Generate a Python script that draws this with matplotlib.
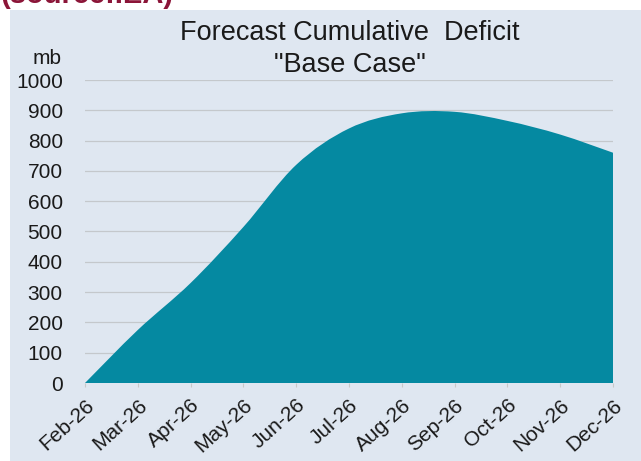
import matplotlib.pyplot as plt
from matplotlib.patches import Rectangle, PathPatch
from matplotlib.path import Path

plt.rcParams['font.family'] = ['Liberation Sans', 'DejaVu Sans']

# 数据
months = ['Feb-26', 'Mar-26', 'Apr-26', 'May-26', 'Jun-26', 'Jul-26',
          'Aug-26', 'Sep-26', 'Oct-26', 'Nov-26', 'Dec-26']
deficit = [0, 175, 330, 515, 720, 840, 890, 895, 865, 820, 760]
yticks = [0, 100, 200, 300, 400, 500, 600, 700, 800, 900, 1000]

fig = plt.figure(figsize=(6.41, 4.61), dpi=100)
fig.patch.set_facecolor('white')
# 背景面板
fig.patches.append(Rectangle((10 / 641, 0), 1, (461 - 10) / 461,
                             transform=fig.transFigure, facecolor='#dfe7f1',
                             edgecolor='none', zorder=-10))
fig.text(0.0, 1 + 5 / 461, '(source:IEA)', color='#8b1538', fontsize=21,
         fontweight='bold', ha='left', va='center')

ax = fig.add_axes([85 / 641, 78 / 461, (613 - 85) / 641, (383 - 80) / 461])
ax.set_facecolor('none')
x = list(range(len(months)))

# 平滑面积（Excel 风格的平滑线，贝塞尔曲线）
n = len(x)
verts = [(x[0], 0), (x[0], deficit[0])]
codes = [Path.MOVETO, Path.LINETO]
for i in range(n - 1):
    p0 = (x[max(i - 1, 0)], deficit[max(i - 1, 0)])
    p1 = (x[i], deficit[i])
    p2 = (x[i + 1], deficit[i + 1])
    p3 = (x[min(i + 2, n - 1)], deficit[min(i + 2, n - 1)])
    c1 = (p1[0] + (p2[0] - p0[0]) / 6, p1[1] + (p2[1] - p0[1]) / 6)
    c2 = (p2[0] - (p3[0] - p1[0]) / 6, p2[1] - (p3[1] - p1[1]) / 6)
    verts += [c1, c2, p2]
    codes += [Path.CURVE4] * 3
verts += [(x[-1], 0), (x[0], 0)]
codes += [Path.LINETO, Path.CLOSEPOLY]
ax.add_patch(PathPatch(Path(verts, codes), facecolor='#0589a1',
                       edgecolor='none', zorder=2))

ax.set_xlim(0, len(months) - 1)
ax.set_ylim(0, 1000)
ax.set_yticks(yticks)
ax.set_xticks(x)
ax.set_xticklabels(months, rotation=42, ha='right', rotation_mode='anchor')
ax.tick_params(axis='y', length=0, labelsize=15, pad=16, colors='#1a1a1a')
ax.tick_params(axis='x', length=3, color='#c8c8c8', labelsize=15, pad=6,
               labelcolor='#1a1a1a')
ax.grid(axis='y', color='#c4c8cc', linewidth=0.9, zorder=1)
ax.set_axisbelow(True)
for s in ax.spines.values():
    s.set_visible(False)

fig.text(47 / 641, 1 - 58 / 461, 'mb', fontsize=15, ha='center', va='center',
         color='#1a1a1a')
fig.text(350 / 641, 1 - 33 / 461, 'Forecast Cumulative  Deficit', fontsize=19.5,
         ha='center', va='center', color='#1a1a1a')
fig.text(350 / 641, 1 - 65 / 461, '"Base Case"', fontsize=19.5,
         ha='center', va='center', color='#1a1a1a')

plt.savefig('out.png', dpi=100)
